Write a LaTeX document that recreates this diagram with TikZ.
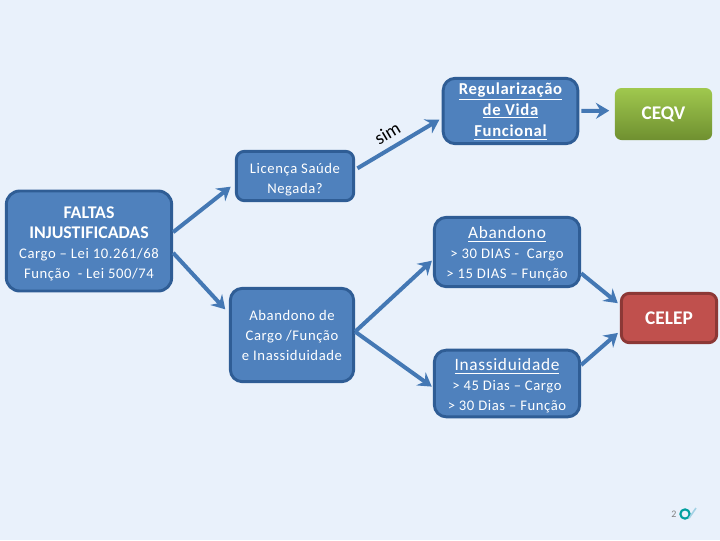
\documentclass[tikz,border=0pt]{standalone}
\usepackage{fontspec}
\setmainfont{Carlito}
\newfontfamily\wideface[LetterSpace=4]{Carlito}
\usetikzlibrary{arrows.meta}
\definecolor{paper}{HTML}{E9F1FB}
\definecolor{boxblue}{HTML}{4F81BD}
\definecolor{boxedge}{HTML}{2F5D95}
\definecolor{linkblue}{HTML}{4478B4}
\definecolor{celepfill}{HTML}{C0504D}
\definecolor{celepedge}{HTML}{8C3836}
\definecolor{ceqvtop}{HTML}{A0C84E}
\definecolor{ceqvbottom}{HTML}{6F9030}
\newcommand\headline[1]{\textnormal{\bfseries\fontsize{13.4}{15}\selectfont #1}}
\newcommand\headunder[1]{{\fontsize{13}{16}\selectfont\underline{#1}}}
\newcommand\lift[1]{\rule{0pt}{#1}}
\tikzset{
  bluebox/.style={draw=boxedge,line width=2.2pt,fill=boxblue,rounded corners=9pt,text=white,
    align=center,inner sep=0pt,font=\wideface\fontsize{11}{15}\selectfont},
  link/.style={draw=linkblue,line width=3pt,-{Stealth[length=10pt,width=12pt,inset=3.5pt]}},
}
\begin{document}
\begin{tikzpicture}[x=.75pt,y=-.75pt,line join=round]
  \useasboundingbox (0,0) rectangle (720,540);
  \fill[paper] (0,0) rectangle (720,540);

  \node[bluebox,rounded corners=10pt,minimum width=124pt,minimum height=75pt] (faltas) at (89,241)
    {\lift{13pt}\headline{FALTAS}\\\headline{INJUSTIFICADAS}\\Cargo – Lei 10.261/68\\Função~ - Lei 500/74};
  \node[bluebox,rounded corners=6pt,minimum width=88pt,minimum height=37pt] (licenca) at (295,176) {\lift{13pt}Licença Saúde\\Negada?};
  \node[bluebox,minimum width=101pt,minimum height=49pt,font=\wideface\bfseries\fontsize{12.5}{16}\selectfont] (regular) at (510.5,111)
    {\underline{Regularização}\\\underline{de Vida}\\\underline{Funcional}};
  \node[minimum width=73pt,minimum height=39pt,rounded corners=5pt,top color=ceqvtop,bottom color=ceqvbottom,
    text=white,inner sep=0pt,font=\bfseries\fontsize{14.5}{16}\selectfont] (ceqv) at (663.5,114) {CEQV};
  \node[bluebox,minimum width=109pt,minimum height=52pt] (abandono) at (507,252)
    {\lift{12pt}\headunder{Abandono}\\> 30 DIAS -~ Cargo\\> 15 DIAS – Função};
  \node[bluebox,minimum width=92.5pt,minimum height=70pt] (abcargo) at (292,335)
    {Abandono de\\Cargo /Função\\e Inassiduidade};
  \node[draw=celepedge,line width=2.2pt,fill=celepfill,minimum width=71.5pt,minimum height=37pt,
    rounded corners=6pt,text=white,inner sep=0pt,font=\bfseries\fontsize{14.5}{16}\selectfont] (celep) at (669,318) {CELEP};
  \node[bluebox,minimum width=109pt,minimum height=50pt] (inass) at (507,383.5)
    {\lift{13pt}\headunder{Inassiduidade}\\> 45 Dias – Cargo\\> 30 Dias – Função};

  \draw[link,shorten >=4pt] (faltas.6) -- (licenca.187);
  \draw[link,shorten >=4pt] (faltas.-8) -- (abcargo.161);
  \draw[link,shorten >=2pt,shorten <=2pt] (licenca.6) -- (regular.186)
    node[pos=.46,above=5pt,sloped,text=black,inner sep=0pt,font=\fontsize{14}{14}\selectfont] (simlabel) {sim};
  \draw[link,shorten >=4pt,shorten <=1.5pt] (regular.0) -- (ceqv.176.5);
  \draw[link,shorten >=1pt] (abcargo.3) -- (abandono.186);
  \draw[link,shorten >=1pt] (abcargo.3) -- (inass.183.5);
  \draw[link,shorten >=2pt] (abandono.-16) -- (celep.165);
  \draw[link,shorten >=2pt] (inass.14) -- (celep.-165);

  % page number and mark
  \node[text=gray,inner sep=0pt,font=\fontsize{7.5}{9}\selectfont] (pagenum) at (674,514) {2};
  \node[draw=teal!75!cyan,line width=1.6pt,circle,minimum size=7pt,inner sep=0pt] (mark) at (685,514) {};
  \draw[gray!40!cyan!50,line width=1.2pt] (mark.south east) -- (696,508);
\end{tikzpicture}
\end{document}
